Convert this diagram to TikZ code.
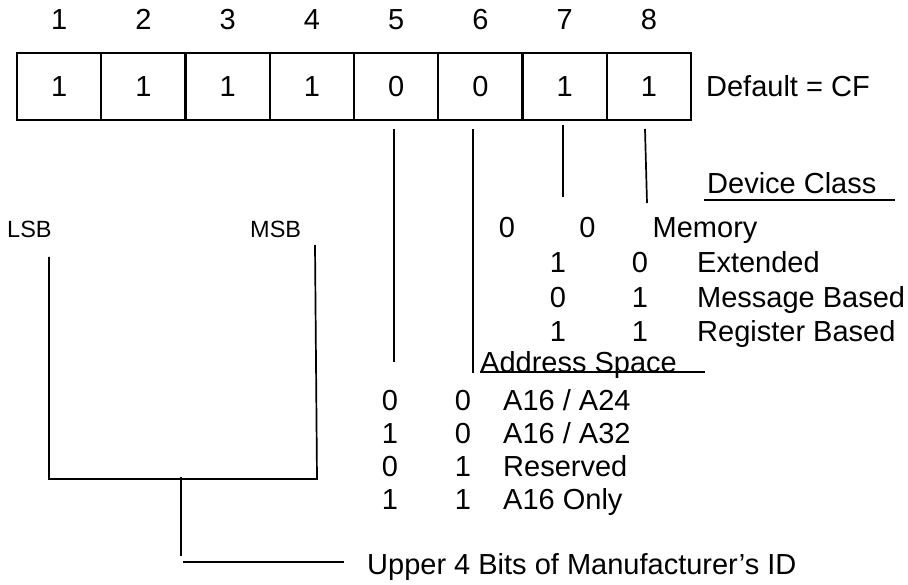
\documentclass[tikz,border=0pt]{standalone}
\usepackage{fontspec}
\setmainfont{Liberation Sans}
\usetikzlibrary{positioning}
\definecolor{Ink}{HTML}{000000}
\tikzset{
  cell/.style={
    draw=Ink, line width=2.1pt, minimum width=84.25pt, minimum height=67pt,
    inner sep=0pt, outer sep=0pt, font=\fontsize{29}{34}\selectfont
  },
  bitnum/.style={inner sep=0pt, text=Ink, font=\fontsize{29}{34}\selectfont},
  digit/.style={anchor=base, inner sep=0pt, text=Ink, font=\fontsize{29}{34}\selectfont},
  txt/.style={anchor=base west, inner sep=0pt, text=Ink, font=\fontsize{29}{34}\selectfont},
  smalltxt/.style={anchor=base west, inner sep=0pt, text=Ink, font=\fontsize{23.5}{28}\selectfont},
  wire/.style={draw=Ink, line width=1.7pt}
}

\begin{document}
\begin{tikzpicture}[x=1pt,y=-1pt]
    \useasboundingbox (0,0) rectangle (908,585);
    % register byte
    \node[cell] (c1) at (59.1,86.5) {1};
    \node[cell,right=0pt of c1] (c2) {1};
    \node[cell,right=0pt of c2] (c3) {1};
    \node[cell,right=0pt of c3] (c4) {1};
    \node[cell,right=0pt of c4] (c5) {0};
    \node[cell,right=0pt of c5] (c6) {0};
    \node[cell,right=0pt of c6] (c7) {1};
    \node[cell,right=0pt of c7] (c8) {1};
    \node[bitnum,above=23.5pt of c1] (n1) {1};
    \node[bitnum,above=23.5pt of c2] (n2) {2};
    \node[bitnum,above=23.5pt of c3] (n3) {3};
    \node[bitnum,above=23.5pt of c4] (n4) {4};
    \node[bitnum,above=23.5pt of c5] (n5) {5};
    \node[bitnum,above=23.5pt of c6] (n6) {6};
    \node[bitnum,above=23.5pt of c7] (n7) {7};
    \node[bitnum,above=23.5pt of c8] (n8) {8};
    \node[bitnum,anchor=west,right=15pt of c8] (dflt) {Default = CF};
    % device class table
    \node[txt] (devcls) at (707,193.5) {Device Class};
    \node[digit] (m1) at (507,237.5) {0};
    \node[digit] (m2) at (587.5,237.5) {0};
    \node[txt] (mem) at (652.5,237.5) {Memory};
    \node[digit] (e1) at (558,272.5) {1};
    \node[digit] (e2) at (640,272.5) {0};
    \node[txt] (ext) at (697,272.5) {Extended};
    \node[digit] (g1) at (558,307.5) {0};
    \node[digit] (g2) at (640,307.5) {1};
    \node[txt] (msg) at (697,307.5) {Message Based};
    \node[digit] (r1) at (558,341.5) {1};
    \node[digit] (r2) at (640,341.5) {1};
    \node[txt] (reg) at (697,341.5) {Register Based};
    % address space table
    \node[txt] (addr) at (480,373) {Address Space};
    \node[digit] (a1) at (390,410.5) {0};
    \node[digit] (a2) at (463,410.5) {0};
    \node[txt] (a24) at (503,410.5) {A16 / A24};
    \node[digit] (b1) at (390,443.5) {1};
    \node[digit] (b2) at (463,443.5) {0};
    \node[txt] (a32) at (503,443.5) {A16 / A32};
    \node[digit] (d1) at (390,476.5) {0};
    \node[digit] (d2) at (463,476.5) {1};
    \node[txt] (rsv) at (503,476.5) {Reserved};
    \node[digit] (f1) at (390,509.5) {1};
    \node[digit] (f2) at (463,509.5) {1};
    \node[txt] (a16) at (503,509.5) {A16 Only};
    % manufacturer bits
    \node[smalltxt] (lsb) at (7,238) {LSB};
    \node[smalltxt] (msb) at (250,238) {MSB};
    \node[txt] (mfr) at (367,574) {Upper 4 Bits of Manufacturer’s ID};
    \coordinate (b5top) at (394,129);
    \coordinate (b5bot) at (394,362);
    \coordinate (b6top) at (473,129);
    \coordinate (b6bot) at (473,373);
    \coordinate (b7top) at (563,125);
    \coordinate (b7bot) at (563,197);
    \coordinate (b8top) at (645,129);
    \coordinate (b8bot) at (647,203);
    \coordinate (dcl) at (704,200);
    \coordinate (dcr) at (895,200);
    \coordinate (asl) at (480,372);
    \coordinate (asr) at (705,372);
    \coordinate (lsbtop) at (49,257);
    \coordinate (lsbfoot) at (49,479);
    \coordinate (msbfoot) at (317,479);
    \coordinate (msbtop) at (315,245);
    \coordinate (idtop) at (181,477);
    \coordinate (idfoot) at (181,556);
    \coordinate (idl) at (183,562);
    \coordinate (idr) at (344,562);
    \draw[wire] (b5top)--(b5bot);
    \draw[wire] (b6top)--(b6bot);
    \draw[wire] (b7top)--(b7bot);
    \draw[wire] (b8top)--(b8bot);
    \draw[wire] (dcl)--(dcr);
    \draw[wire] (asl)--(asr);
    \draw[wire] (lsbtop)--(lsbfoot)--(msbfoot)--(msbtop);
    \draw[wire] (idtop)--(idfoot);
    \draw[wire] (idl)--(idr);
  \end{tikzpicture}
\end{document}
